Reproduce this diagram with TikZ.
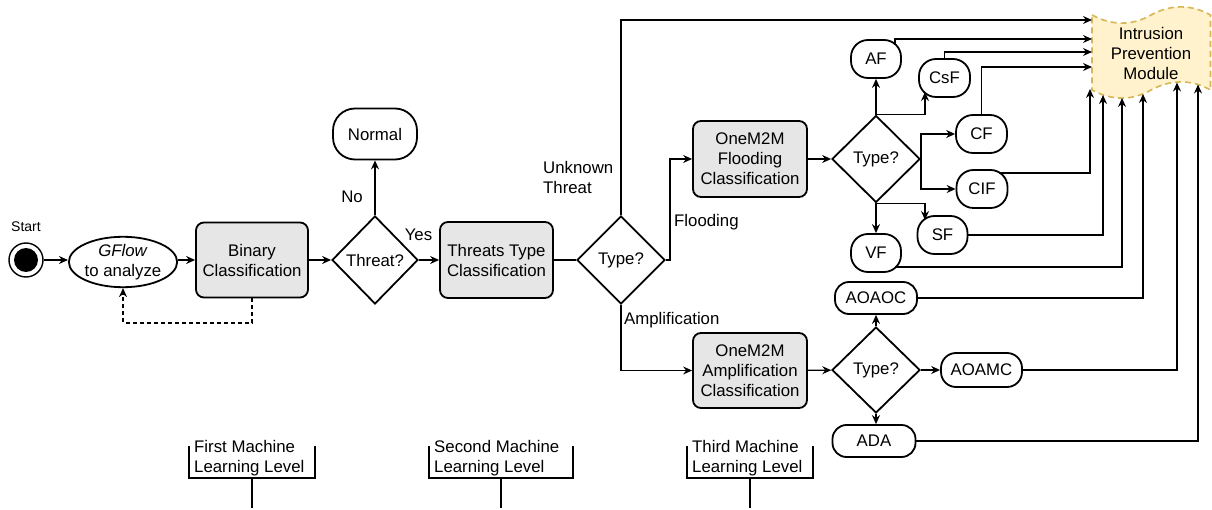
\documentclass[tikz,border=0pt]{standalone}
\usepackage{fontspec}
\setmainfont{Liberation Sans}
\usetikzlibrary{shapes.geometric,arrows.meta,calc}
\definecolor{boxgray}{HTML}{E6E6E6}
\definecolor{ipmfill}{HTML}{FFF2CC}
\definecolor{ipmline}{HTML}{D6B656}
\begin{document}
\begin{tikzpicture}[x=1pt,y=-1pt,
  every node/.style={font=\fontsize{16.8}{20}\selectfont, inner sep=0pt},
  proc/.style={draw, fill=boxgray, rounded corners=8pt, line width=1.8pt, align=center, minimum width=113pt, minimum height=76pt},
  dec/.style={draw, diamond, aspect=1, line width=1.8pt, minimum width=88pt, minimum height=88pt},
  term/.style={draw, rectangle, rounded corners=17pt, line width=1.8pt, minimum width=50pt, minimum height=38pt},
  termw/.style={draw, rectangle, rounded corners=14pt, line width=1.8pt, minimum width=82pt, minimum height=32pt},
  arr/.style={-{Stealth[length=9pt,width=8pt,inset=3pt]}, line width=1.3pt},
  con/.style={line width=1.3pt},
  lbl/.style={align=left},
  bracket/.style={line width=2pt}
]
\useasboundingbox (0,0) rectangle (1212,510);

% Intrusion prevention module (tape shape)
\draw[ipmline, fill=ipmfill, line width=1.6pt, dash pattern=on 6pt off 4pt]
  (1092,15) .. controls (1112,25.8) and (1132,25.8) .. (1151,15)
  .. controls (1171,4.2) and (1191,4.2) .. (1210.5,15)
  -- (1210.5,90)
  .. controls (1191,79.2) and (1171,79.2) .. (1151,90)
  .. controls (1132,100.8) and (1112,100.8) .. (1092,90) -- cycle;
\node[align=center, minimum width=118pt, minimum height=93pt] (ipm) at (1151,53) {Intrusion\\Prevention\\Module};

% Start
\node[circle, draw, line width=1.4pt, minimum size=34pt] (start) at (26,260) {};
\node[circle, fill=black, minimum size=24pt] (startdot) at (26,260) {};
\node[font=\fontsize{14}{16}\selectfont] (startlbl) at (26,227) {Start};

\node[draw, ellipse, line width=1.8pt, minimum width=104pt, minimum height=48pt, align=center] (gflow) at (123,262) {\textit{GFlow}\\to analyze};
\node[proc, minimum width=112pt, minimum height=75pt] (binary) at (252,260) {Binary\\Classification};
\node[dec, minimum width=86pt] (threat) at (375,260) {Threat?};
\node[draw, rectangle, rounded corners=22pt, line width=1.8pt, minimum width=84pt, minimum height=51pt] (normal) at (375,134) {Normal};
\node[proc] (ttc) at (496.5,260) {Threats Type\\Classification};
\node[dec] (t1) at (621,260) {Type?};
\node[proc, minimum width=114pt] (flood) at (750,159) {OneM2M\\Flooding\\Classification};
\node[dec, minimum height=87pt] (t2) at (876,159) {Type?};
\node[term] (af) at (876,59) {AF};
\node[term, minimum width=51pt] (csf) at (944.5,78) {CsF};
\node[term, minimum width=51pt] (cf) at (981.5,134) {CF};
\node[term, minimum width=51pt] (cif) at (982,189) {CIF};
\node[term] (sf) at (942.5,235) {SF};
\node[term] (vf) at (876,253) {VF};

\node[proc, minimum width=114pt, minimum height=75pt] (amp) at (750,370.5) {OneM2M\\Amplification\\Classification};
\node[dec, minimum height=86pt] (t3) at (876,370) {Type?};
\node[termw] (aoaoc) at (876,298) {AOAOC};
\node[termw, minimum width=81pt, minimum height=34pt, rounded corners=15pt] (aoamc) at (981.5,370) {AOAMC};
\node[termw, minimum width=83pt] (ada) at (874,441) {ADA};

% labels
\node (nolbl) at (352,197) {No};
\node (yeslbl) at (418.5,235) {Yes};
\node[lbl, anchor=west] (unk) at (543,177) {Unknown\\Threat};
\node[anchor=west] (floodlbl) at (674,222) {Flooding};
\node[anchor=west] (amplbl) at (624,320) {Amplification};

% helper coordinates on borders
\coordinate (ipmA) at (1092,20);
\coordinate (ipmB) at (1092,39);
\coordinate (ipmC) at (1092,52);
\coordinate (ipmD) at (1092,67);
\coordinate (ipmE) at (1090,89);
\coordinate (ipmF) at (1103,95);
\coordinate (ipmG) at (1122,98);
\coordinate (ipmH) at (1143,94);
\coordinate (ipmI) at (1177,82.5);
\coordinate (ipmJ) at (1198,84.5);
\coordinate (csfin) at ($(csf.center)+(-19.5,14)$);
\coordinate (sfin) at ($(sf.center)+(-17.5,-15)$);
\coordinate (afout) at ($(af.center)+(19,-14)$);
\coordinate (cifout) at ($(cif.center)+(17,-16)$);
\coordinate (vfout) at ($(vf.center)+(19,14)$);

% connectors
\draw[arr] (start) -- (gflow.west |- start);
\draw[arr] (gflow.east |- binary) -- (binary);
\draw[arr] (binary) -- (threat);
\draw[arr] (threat) -- (normal);
\draw[arr] (threat) -- (ttc);
\draw[con] (ttc) -- (t1);
\draw[arr, dash pattern=on 4pt off 3pt] (binary.south) -- ++(0,24.5) -| (gflow.south);
\draw[arr] (t1.north) |- (ipmA);
\draw[arr] (t1.east) -- ++(4,0) |- (flood.west);
\draw[arr] (t1.south) |- (amp.west);
\draw[arr] (flood) -- (t2);
\draw[arr] (t2) -- (af);
\draw[arr] (t2.north) -| (csfin);
\draw[arr] (t2.east) |- (cf.west);
\draw[arr] (t2.east) |- (cif.west);
\draw[arr] (t2) -- (vf);
\draw[arr] (t2.south) -| (sfin);
\draw[arr] (afout) |- (ipmB);
\draw[arr] (csf.north) |- (ipmC);
\draw[arr] (cf.north) |- (ipmD);
\draw[arr] (cifout) -| (ipmE);
\draw[arr] (sf.east) -| (ipmF);
\draw[arr] (vfout) -| (ipmG);
\draw[arr] (aoaoc.east) -| (ipmH);
\draw[arr] (aoamc.east) -| (ipmI);
\draw[arr] (ada.east) -| (ipmJ);
\draw[arr] (amp) -- (t3);
\draw[arr] (t3) -- (aoaoc);
\draw[arr] (t3) -- (aoamc);
\draw[arr] (t3.south) -- (t3.south |- ada.north);

% machine learning level brackets
\node[lbl, anchor=west] (lvl1) at (194,458) {First Machine\\Learning Level};
\draw[bracket] (189,446) -- (189,478) -- (315,478) -- (315,446);
\draw[bracket] (252,478) -- (252,508);
\node[lbl, anchor=west] (lvl2) at (434,458) {Second Machine\\Learning Level};
\draw[bracket] (429,446) -- (429,478) -- (573,478) -- (573,446);
\draw[bracket] (501,478) -- (501,508);
\node[lbl, anchor=west] (lvl3) at (692,458) {Third Machine\\Learning Level};
\draw[bracket] (687,446) -- (687,478) -- (813,478) -- (813,446);
\draw[bracket] (750,478) -- (750,508);
\end{tikzpicture}
\end{document}
